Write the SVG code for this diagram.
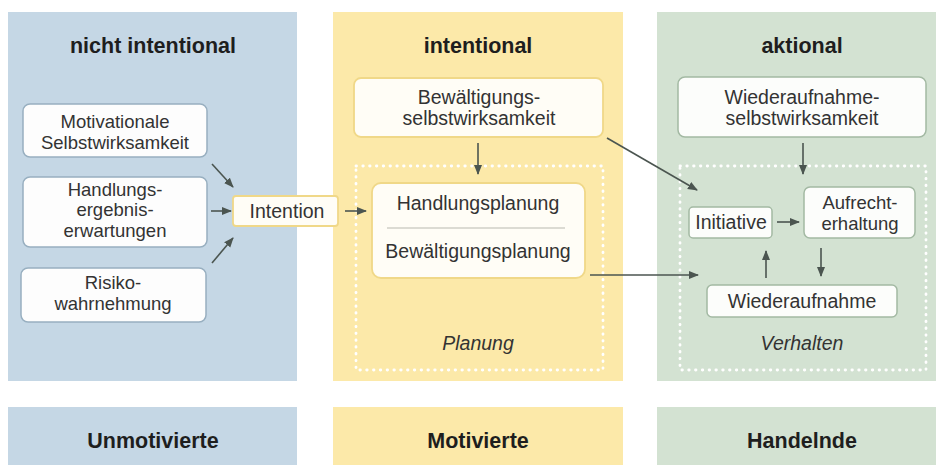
<svg xmlns="http://www.w3.org/2000/svg" width="936" height="465" viewBox="0 0 936 465">
<defs>
<style>
.pb{fill:#c5d7e5}
.py{fill:#fce9a9}
.pg{fill:#d3e2d2}
.bb{fill:#fdfdfd;stroke:#98afc0;stroke-width:1.5}
.by{fill:#fffdf6;stroke:#f0d888;stroke-width:1.8}
.bg{fill:#fcfdfb;stroke:#a3b9a3;stroke-width:1.5}
.dot{fill:none;stroke:#ffffff;stroke-width:2.8;stroke-dasharray:0.5 6.3;stroke-linecap:round}
.h{font-family:"Liberation Sans",Arial,sans-serif;font-weight:bold;font-size:21.5px;fill:#1e1e1e;text-anchor:middle}
.t{font-family:"Liberation Sans",Arial,sans-serif;font-size:19.5px;fill:#333333;text-anchor:middle}
.m{font-family:"Liberation Sans",Arial,sans-serif;font-size:18.5px;fill:#333333;text-anchor:middle}
.it{font-family:"Liberation Sans",Arial,sans-serif;font-size:19.5px;font-style:italic;fill:#333333;text-anchor:middle}
.a{fill:none;stroke:#4b5550;stroke-width:1.6;marker-end:url(#ah)}
</style>
<marker id="ah" markerUnits="userSpaceOnUse" markerWidth="10" markerHeight="10" viewBox="0 0 10 10" refX="9" refY="5" orient="auto">
<path d="M0,1 L10,5 L0,9 z" fill="#4b5550"/>
</marker>
</defs>
<rect width="936" height="465" fill="#ffffff"/>
<g id="panels">
<rect class="pb" x="8" y="12" width="289" height="369"/>
<rect class="py" x="333" y="12" width="290" height="369"/>
<rect class="pg" x="657" y="12" width="279" height="369"/>
<rect class="pb" x="8" y="407" width="289" height="58"/>
<rect class="py" x="333" y="407" width="290" height="58"/>
<rect class="pg" x="657" y="407" width="279" height="58"/>
<rect class="dot" x="356" y="166" width="247" height="204"/>
<rect class="dot" x="680" y="166" width="246" height="204"/>
</g>
<g id="headings">
<text class="h" x="153" y="53">nicht intentional</text>
<text class="h" x="478" y="53">intentional</text>
<text class="h" x="802" y="53">aktional</text>
<text class="h" x="153" y="448">Unmotivierte</text>
<text class="h" x="478" y="448">Motivierte</text>
<text class="h" x="802" y="448">Handelnde</text>
<text class="it" x="478" y="350">Planung</text>
<text class="it" x="802" y="350">Verhalten</text>
</g>
<g id="n-motivationale">
<rect class="bb" x="23" y="104" width="184" height="53" rx="7"/>
<text class="m" x="115" y="128">Motivationale</text>
<text class="m" x="115" y="148.5">Selbstwirksamkeit</text>
</g>
<g id="n-handlungsergebnis">
<rect class="bb" x="23" y="177" width="184" height="70" rx="7"/>
<text class="m" x="115" y="195.5">Handlungs-</text>
<text class="m" x="115" y="216">ergebnis-</text>
<text class="m" x="115" y="236.5">erwartungen</text>
</g>
<g id="n-risiko">
<rect class="bb" x="21" y="268" width="185" height="54" rx="7"/>
<text class="m" x="113" y="289">Risiko-</text>
<text class="m" x="113" y="309.5">wahrnehmung</text>
</g>
<g id="n-intention">
<rect class="by" x="233" y="196" width="105" height="30" rx="3"/>
<text class="t" x="287" y="218">Intention</text>
</g>
<g id="n-bewaeltigung">
<rect class="by" x="354" y="78" width="249" height="59" rx="7"/>
<text class="t" x="479" y="103.5">Bewältigungs-</text>
<text class="t" x="479" y="124.5">selbstwirksamkeit</text>
</g>
<g id="n-planung">
<rect class="by" x="372" y="183" width="213" height="95" rx="9"/>
<text class="t" x="478" y="210">Handlungsplanung</text>
<line x1="387" y1="228" x2="565" y2="228" stroke="#b9b9b0" stroke-width="1.2"/>
<text class="t" x="478" y="258">Bewältigungsplanung</text>
</g>
<g id="n-wiederaufnahme-sw">
<rect class="bg" x="678" y="77" width="248" height="60" rx="7"/>
<text class="t" x="802" y="103.5">Wiederaufnahme-</text>
<text class="t" x="802" y="124.5">selbstwirksamkeit</text>
</g>
<g id="n-initiative">
<rect class="bg" x="689" y="207" width="83" height="31" rx="4"/>
<text class="t" x="731" y="229">Initiative</text>
</g>
<g id="n-aufrecht">
<rect class="bg" x="804" y="187" width="111" height="51" rx="6"/>
<text class="m" x="860" y="209">Aufrecht-</text>
<text class="m" x="860" y="229.5">erhaltung</text>
</g>
<g id="n-wiederaufnahme">
<rect class="bg" x="707" y="285" width="190" height="32" rx="5"/>
<text class="t" x="802" y="308">Wiederaufnahme</text>
</g>
<g id="connectors">
<line class="a" x1="212" y1="164" x2="233" y2="187"/>
<line class="a" x1="211" y1="211" x2="231" y2="211"/>
<line class="a" x1="212" y1="263" x2="233" y2="238"/>
<line class="a" x1="345" y1="211" x2="366" y2="211"/>
<line class="a" x1="478" y1="143" x2="478" y2="174"/>
<line class="a" x1="607" y1="138" x2="697" y2="190"/>
<line class="a" x1="590" y1="275" x2="698" y2="275"/>
<line class="a" x1="803" y1="143" x2="803" y2="174"/>
<line class="a" x1="777" y1="222" x2="799" y2="222"/>
<line class="a" x1="766" y1="278" x2="766" y2="251"/>
<line class="a" x1="821" y1="248" x2="821" y2="276"/>
</g>
</svg>
